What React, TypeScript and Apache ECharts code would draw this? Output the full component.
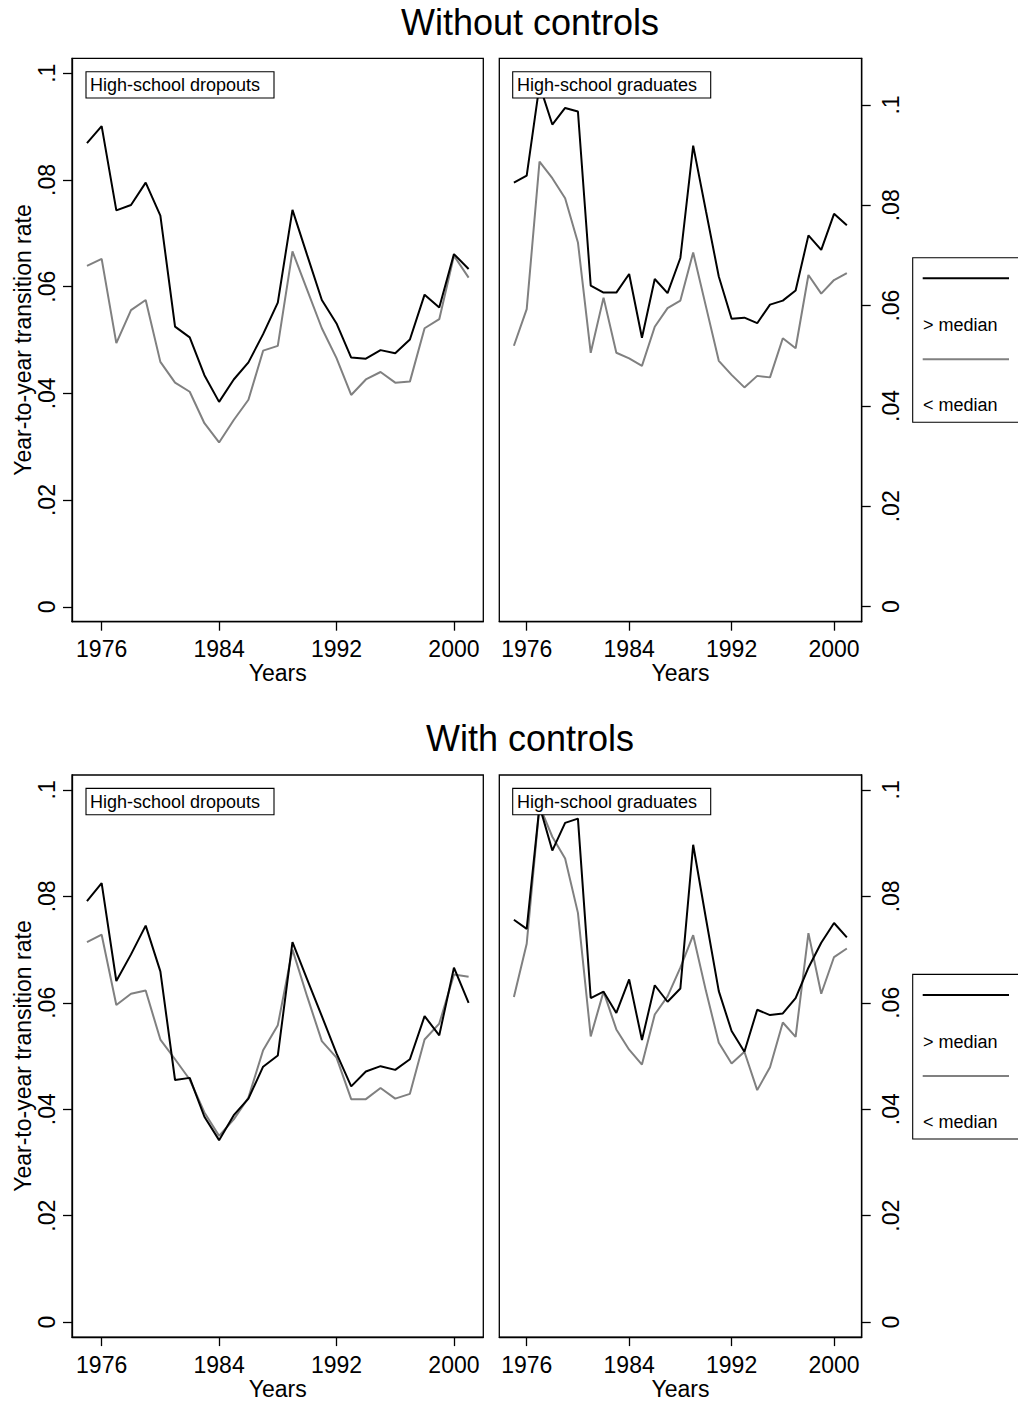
import React, { useEffect, useRef } from "react";
import * as echarts from "echarts";

// ---- Data ----
const YEARS = [
  1975, 1976, 1977, 1978, 1979, 1980, 1981, 1982, 1983, 1984, 1985, 1986, 1987, 1988,
  1989, 1990, 1991, 1992, 1993, 1994, 1995, 1996, 1997, 1998, 1999, 2000, 2001,
];

// Without controls, high-school dropouts
const NC_DROP_ABOVE = [
  0.0869, 0.0901, 0.0743, 0.0753, 0.0795, 0.0733, 0.0525, 0.0505, 0.0434, 0.0384, 0.0426,
  0.0458, 0.0511, 0.057, 0.0744, 0.0659, 0.0575, 0.0531, 0.0467, 0.0465, 0.0481, 0.0475,
  0.0501, 0.0585, 0.0561, 0.0661, 0.0633,
];
const NC_DROP_BELOW = [
  0.0639, 0.0652, 0.0494, 0.0556, 0.0575, 0.0459, 0.042, 0.0403, 0.0344, 0.0308, 0.035,
  0.0388, 0.048, 0.0489, 0.0666, 0.0594, 0.0522, 0.0466, 0.0397, 0.0426, 0.044, 0.042,
  0.0422, 0.0522, 0.0539, 0.0658, 0.0617,
];
// Without controls, high-school graduates
const NC_GRAD_ABOVE = [
  0.0845, 0.0859, 0.104, 0.0961, 0.0994, 0.0987, 0.064, 0.0626, 0.0626, 0.0663, 0.0536,
  0.0653, 0.0625, 0.0695, 0.0919, 0.0788, 0.0658, 0.0574, 0.0576, 0.0565, 0.0602, 0.061,
  0.063, 0.074, 0.0711, 0.0783, 0.076,
];
const NC_GRAD_BELOW = [
  0.052, 0.0593, 0.0887, 0.0854, 0.0814, 0.0726, 0.0506, 0.0616, 0.0506, 0.0495, 0.048,
  0.0558, 0.0595, 0.061, 0.0706, 0.0598, 0.049, 0.0462, 0.0437, 0.046, 0.0457, 0.0535,
  0.0515, 0.0661, 0.0624, 0.0651, 0.0665,
];
// With controls, high-school dropouts
const WC_DROP_ABOVE = [
  0.0791, 0.0825, 0.0641, 0.0691, 0.0745, 0.0659, 0.0455, 0.0459, 0.0386, 0.0342, 0.0389,
  0.042, 0.048, 0.0501, 0.0714, 0.0644, 0.0575, 0.0505, 0.0443, 0.0471, 0.0481, 0.0474,
  0.0494, 0.0575, 0.0539, 0.0666, 0.06,
];
const WC_DROP_BELOW = [
  0.0714, 0.0728, 0.0596, 0.0617, 0.0623, 0.0531, 0.0494, 0.0456, 0.0394, 0.035, 0.0381,
  0.0422, 0.0511, 0.0558, 0.07, 0.0612, 0.0528, 0.0497, 0.0419, 0.0419, 0.044, 0.042,
  0.0429, 0.0531, 0.0561, 0.0653, 0.0649,
];
// With controls, high-school graduates
const WC_GRAD_ABOVE = [
  0.0756, 0.0739, 0.097, 0.0886, 0.0938, 0.0946, 0.0609, 0.0621, 0.0581, 0.0644, 0.053,
  0.0633, 0.0602, 0.0627, 0.0897, 0.0758, 0.0622, 0.0547, 0.0508, 0.0587, 0.0577, 0.058,
  0.0609, 0.0666, 0.0713, 0.075, 0.0723,
];
const WC_GRAD_BELOW = [
  0.0611, 0.0711, 0.097, 0.0912, 0.0871, 0.0769, 0.0537, 0.0621, 0.055, 0.0512, 0.0484,
  0.0578, 0.0612, 0.0666, 0.0727, 0.0622, 0.0525, 0.0486, 0.0508, 0.0436, 0.0479, 0.0563,
  0.0536, 0.0731, 0.0617, 0.0686, 0.0702,
];

const X_TICKS = [1976, 1984, 1992, 2000];
const Y_TICKS = [0, 0.02, 0.04, 0.06, 0.08, 0.1];

const PANEL_TITLES = ["Without controls", "With controls"];
const PANEL_LABELS = ["High-school dropouts", "High-school graduates"];
const LEGEND_LABELS = ["> median", "< median"];
const X_NAME = "Years";
const Y_NAME = "Year-to-year transition rate";

const FONT = "'Liberation Sans', Arial, Helvetica, sans-serif";
const BLACK = "#000000";
const GRAY = "#808080";

const pairs = (vals: number[]) => YEARS.map((y, i) => [y, vals[i]]);
const yFmt = (v: number) => (v === 0 ? "0" : String(+v.toFixed(2)).replace(/^0/, ""));

export default function App() {
  const ref = useRef<HTMLDivElement>(null);

  useEffect(() => {
    if (!ref.current) return;
    const chart = echarts.init(ref.current, undefined, { renderer: "svg" });

    const rowOffset = 716.7;
    const gridsDef = [
      { left: 72, top: 58.3, width: 411.3, height: 563.4 },
      { left: 499.3, top: 58.3, width: 362.4, height: 563.4 },
      { left: 72, top: 58.3 + rowOffset, width: 411.3, height: 563.4 },
      { left: 499.3, top: 58.3 + rowOffset, width: 362.4, height: 563.4 },
    ];
    const xRanges = [
      [1973.98, 2002.0],
      [1973.86, 2002.16],
      [1973.98, 2002.0],
      [1973.86, 2002.16],
    ];
    const yRanges = [
      [-0.0028, 0.1028],
      [-0.003, 0.1093],
      [-0.0028, 0.1028],
      [-0.0028, 0.1028],
    ];

    const axisLineStyle = { color: BLACK, width: 1.3 };
    const grid = gridsDef.map((g) => ({
      ...g,
      show: true,
      borderColor: BLACK,
      borderWidth: 1.3,
      backgroundColor: "transparent",
      containLabel: false,
    }));

    const xAxis = gridsDef.map((_, i) => ({
      type: "value",
      gridIndex: i,
      position: "bottom",
      min: xRanges[i][0],
      max: xRanges[i][1],
      name: X_NAME,
      nameLocation: "middle",
      nameGap: 38,
      nameTextStyle: { fontSize: 23, color: BLACK, fontFamily: FONT },
      axisLine: { show: true, onZero: false, lineStyle: axisLineStyle },
      axisTick: {
        show: true,
        inside: false,
        length: 9,
        lineStyle: axisLineStyle,
        customValues: X_TICKS,
      },
      axisLabel: {
        show: true,
        fontSize: 23,
        color: BLACK,
        fontFamily: FONT,
        margin: 16,
        customValues: X_TICKS,
        formatter: (v: number) => String(v),
      },
      splitLine: { show: false },
    }));

    const yAxis = gridsDef.map((_, i) => {
      const isRight = i % 2 === 1;
      return {
        type: "value",
        gridIndex: i,
        position: isRight ? "right" : "left",
        min: yRanges[i][0],
        max: yRanges[i][1],
        name: isRight ? "" : Y_NAME,
        nameLocation: "middle",
        nameRotate: 90,
        nameGap: 38,
        nameTextStyle: { fontSize: 23, color: BLACK, fontFamily: FONT },
        axisLine: { show: true, onZero: false, lineStyle: axisLineStyle },
        axisTick: {
          show: true,
          inside: false,
          length: 9,
          lineStyle: axisLineStyle,
          customValues: Y_TICKS,
        },
        axisLabel: {
          show: true,
          rotate: 90,
          fontSize: 23,
          color: BLACK,
          fontFamily: FONT,
          margin: isRight ? 18 : 14,
          customValues: Y_TICKS,
          formatter: (v: number) => yFmt(v),
        },
        splitLine: { show: false },
      };
    });

    const seriesSets = [
      [NC_DROP_ABOVE, NC_DROP_BELOW],
      [NC_GRAD_ABOVE, NC_GRAD_BELOW],
      [WC_DROP_ABOVE, WC_DROP_BELOW],
      [WC_GRAD_ABOVE, WC_GRAD_BELOW],
    ];
    const series: any[] = [];
    seriesSets.forEach((pair, i) => {
      pair.forEach((vals, k) => {
        series.push({
          type: "line",
          name: LEGEND_LABELS[k],
          xAxisIndex: i,
          yAxisIndex: i,
          data: pairs(vals),
          showSymbol: false,
          symbol: "none",
          lineStyle: { color: k === 0 ? BLACK : GRAY, width: 2 },
          itemStyle: { color: k === 0 ? BLACK : GRAY },
          z: k === 0 ? 3 : 2,
        });
      });
    });

    const graphic: any[] = [];
    [0, 1].forEach((row) => {
      const dy = row * rowOffset;
      graphic.push({
        type: "text",
        x: 530,
        y: 22 + dy,
        z: 100,
        style: {
          text: PANEL_TITLES[row],
          fontSize: 36,
          fontFamily: FONT,
          fill: BLACK,
          align: "center",
          verticalAlign: "middle",
        },
      });
      // panel label boxes
      const boxes = [
        { x: 86, w: 188, tx: 90 },
        { x: 512.7, w: 198, tx: 517 },
      ];
      boxes.forEach((b, k) => {
        graphic.push({
          type: "rect",
          z: 100,
          shape: { x: b.x, y: 71.7 + dy, width: b.w, height: 26.3 },
          style: { fill: "#ffffff", stroke: BLACK, lineWidth: 1.1 },
        });
        graphic.push({
          type: "text",
          z: 101,
          x: b.tx,
          y: 85 + dy,
          style: {
            text: PANEL_LABELS[k],
            fontSize: 18,
            fontFamily: FONT,
            fill: BLACK,
            align: "left",
            verticalAlign: "middle",
          },
        });
      });
      // legend
      graphic.push({
        type: "rect",
        z: 100,
        shape: { x: 912.7, y: 257.7 + dy, width: 140, height: 164.6 },
        style: { fill: "#ffffff", stroke: BLACK, lineWidth: 1.1 },
      });
      graphic.push({
        type: "line",
        z: 101,
        shape: { x1: 922.7, y1: 278.3 + dy, x2: 1009, y2: 278.3 + dy },
        style: { stroke: BLACK, lineWidth: 2 },
      });
      graphic.push({
        type: "line",
        z: 101,
        shape: { x1: 922.7, y1: 359.3 + dy, x2: 1009, y2: 359.3 + dy },
        style: { stroke: GRAY, lineWidth: 2 },
      });
      [325, 405].forEach((ty, k) => {
        graphic.push({
          type: "text",
          z: 101,
          x: 923,
          y: ty + dy,
          style: {
            text: LEGEND_LABELS[k],
            fontSize: 18,
            fontFamily: FONT,
            fill: BLACK,
            align: "left",
            verticalAlign: "middle",
          },
        });
      });
    });

    chart.setOption({
      animation: false,
      backgroundColor: "#ffffff",
      textStyle: { fontFamily: FONT },
      grid,
      xAxis,
      yAxis,
      series,
      graphic,
    } as any);

    return () => chart.dispose();
  }, []);

  return (
    <div
      ref={ref}
      style={{ position: "absolute", left: 0, top: 0, width: 1018, height: 1401, background: "#fff" }}
    />
  );
}
